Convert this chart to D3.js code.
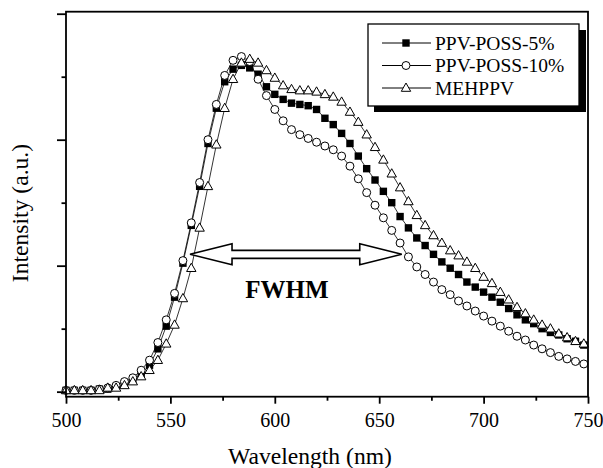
<!DOCTYPE html>
<html>
<head>
    <meta charset="utf-8">
    <title>PL spectra</title>
    <script src="https://d3js.org/d3.v7.min.js"></script>
    <style>
        body { margin: 0; padding: 0; background: #fff; }
        text { font-family: "Liberation Serif", "Times New Roman", serif; fill: #000; }
    </style>
</head>
<body>
    <svg id="svg" width="603" height="468"></svg>

    <script>
        // Wavelengths every 4 nm, 500..748
        const wavelengths = d3.range(500, 749, 4);

        // Intensity (a.u.)
        const poss5 = [
            1, 1, 1, 1, 2, 2, 4, 6, 9, 14,
            21, 34, 52, 75, 102, 132, 163, 197, 225, 246,
            256, 259, 257, 252, 242, 236, 232, 229, 228, 227,
            224, 217, 212, 205, 197, 187, 177, 168, 159, 150,
            139, 130, 122, 116, 109, 103, 98, 93, 87, 83,
            79, 75, 71, 66, 61, 57, 54, 50, 47, 45,
            42, 40, 37
        ];
        const poss10 = [
            1, 1, 1, 1, 2, 3, 5, 8, 11, 17,
            25, 39, 57, 78, 104, 134, 166, 200, 228, 251,
            263, 266, 262, 248, 235, 224, 215, 208, 204, 201,
            198, 195, 192, 187, 179, 169, 158, 148, 138, 128,
            118, 107, 99, 93, 87, 81, 77, 72, 68, 64,
            60, 56, 52, 48, 44, 41, 37, 34, 31, 28,
            26, 24, 22
        ];
        const mehppv = [
            1, 1, 1, 1, 1, 3, 3, 5, 8, 12,
            17, 25, 38, 53, 74, 98, 130, 163, 196, 225,
            248, 261, 264, 261, 255, 249, 243, 240, 239, 239,
            238, 236, 234, 230, 222, 214, 204, 194, 184, 173,
            162, 151, 140, 132, 124, 118, 112, 108, 103, 98,
            91, 86, 79, 73, 67, 62, 57, 53, 50, 46,
            43, 40, 38
        ];

        const seriesNames = ["PPV-POSS-5%", "PPV-POSS-10%", "MEHPPV"];
        const xTicks = [500, 550, 600, 650, 700, 750];
        const xMinorTicks = [525, 575, 625, 675, 725];
        const yTicks = [0, 100, 200, 300];
        const yMinorTicks = [50, 150, 250];

        // FWHM annotation (wavelength span and level)
        const fwhmSpan = [559.4, 660.8];
        const fwhmLevel = 109;

        const svg = d3.select("svg");
        const x = d3.scaleLinear().domain([500, 750]).range([66, 588]);
        const y = d3.scaleLinear().domain([-4, 301.6]).range([396.7, 11.7]);

        // Markers
        const shapes = {
            square: g => g.append("rect").attr("x", -3.7).attr("y", -3.7)
                .attr("width", 7.4).attr("height", 7.4).attr("fill", "#000"),
            circle: g => g.append("circle").attr("r", 4)
                .attr("fill", "#fff").attr("stroke", "#000").attr("stroke-width", 1),
            triangle: g => g.append("path").attr("d", "M0,-5L4.7,3.3L-4.7,3.3Z")
                .attr("fill", "#fff").attr("stroke", "#000").attr("stroke-width", 1)
        };

        const series = [
            { name: seriesNames[0], values: poss5, shape: "square" },
            { name: seriesNames[1], values: poss10, shape: "circle" },
            { name: seriesNames[2], values: mehppv, shape: "triangle" }
        ];

        const line = d3.line()
            .x((d, i) => x(wavelengths[i]))
            .y(d => y(d));

        const plot = svg.append("g");

        // Connecting lines first, markers on top
        series.forEach(s => {
            plot.append("path")
                .attr("d", line(s.values))
                .attr("fill", "none")
                .attr("stroke", "#000")
                .attr("stroke-width", 0.8);
        });
        series.forEach(s => {
            plot.selectAll(null)
                .data(s.values)
                .enter()
                .append("g")
                    .attr("transform", (d, i) => `translate(${x(wavelengths[i])},${y(d)})`)
                    .each(function () { shapes[s.shape](d3.select(this)); });
        });

        // Frame
        svg.append("rect")
            .attr("x", 66).attr("y", 11.7)
            .attr("width", 522).attr("height", 385)
            .attr("fill", "none")
            .attr("stroke", "#000")
            .attr("stroke-width", 1.8);

        // X axis
        const xAxis = svg.append("g")
            .attr("transform", "translate(0,396.7)")
            .call(d3.axisBottom(x).tickValues(xTicks).tickSize(7).tickPadding(9));
        svg.append("g")
            .attr("transform", "translate(0,396.7)")
            .call(d3.axisBottom(x).tickValues(xMinorTicks).tickSize(4).tickFormat(""));
        xAxis.selectAll("text")
            .attr("font-size", 20)
            .attr("font-family", "Liberation Serif");

        // Y axis, no labels
        svg.append("g")
            .attr("transform", "translate(66,0)")
            .call(d3.axisLeft(y).tickValues(yTicks).tickSize(9).tickFormat(""));
        svg.append("g")
            .attr("transform", "translate(66,0)")
            .call(d3.axisLeft(y).tickValues(yMinorTicks).tickSize(4.5).tickFormat(""));

        svg.selectAll(".domain").remove();
        svg.selectAll(".tick line").attr("stroke", "#000").attr("stroke-width", 1.8);

        // Axis titles
        svg.append("text")
            .attr("x", 310).attr("y", 464)
            .attr("text-anchor", "middle")
            .attr("font-size", 23.6)
            .text("Wavelength (nm)");
        svg.append("text")
            .attr("transform", "translate(28,213) rotate(-90)")
            .attr("text-anchor", "middle")
            .attr("font-size", 23.6)
            .text("Intensity (a.u.)");

        // FWHM double arrow
        const ax0 = x(fwhmSpan[0]), ax1 = x(fwhmSpan[1]), ay = y(fwhmLevel);
        const headLen = 42, headHalf = 10.5, shaftHalf = 4;
        const arrow = [
            [ax0, ay],
            [ax0 + headLen, ay - headHalf],
            [ax0 + headLen, ay - shaftHalf],
            [ax1 - headLen, ay - shaftHalf],
            [ax1 - headLen, ay - headHalf],
            [ax1, ay],
            [ax1 - headLen, ay + headHalf],
            [ax1 - headLen, ay + shaftHalf],
            [ax0 + headLen, ay + shaftHalf],
            [ax0 + headLen, ay + headHalf]
        ];
        svg.append("path")
            .attr("d", "M" + arrow.join("L") + "Z")
            .attr("fill", "#fff")
            .attr("stroke", "#000")
            .attr("stroke-width", 1.6);

        svg.append("text")
            .attr("x", x(605.8)).attr("y", y(74))
            .attr("text-anchor", "middle")
            .attr("font-size", 25)
            .attr("font-weight", "bold")
            .text("FWHM");

        // Legend with drop shadow
        const legend = svg.append("g");
        legend.append("rect")
            .attr("x", 374).attr("y", 30).attr("width", 212).attr("height", 82)
            .attr("fill", "#000");
        legend.append("rect")
            .attr("x", 368).attr("y", 24).attr("width", 211).attr("height", 82)
            .attr("fill", "#fff").attr("stroke", "#000").attr("stroke-width", 1.3);

        const rowY = [43, 65.5, 88];
        series.forEach((s, i) => {
            const row = legend.append("g").attr("transform", `translate(0,${rowY[i]})`);
            row.append("line")
                .attr("x1", 382).attr("x2", 431)
                .attr("stroke", "#000").attr("stroke-width", 1);
            shapes[s.shape](row.append("g").attr("transform", "translate(406,0)"));
            row.append("text")
                .attr("x", 435).attr("y", 0)
                .attr("dy", "0.35em")
                .attr("font-size", 19.5)
                .text(s.name);
        });
    </script>
</body>
</html>
